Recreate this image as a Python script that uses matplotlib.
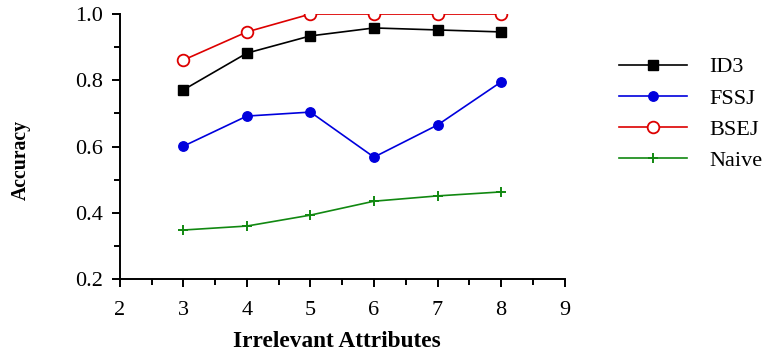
import matplotlib
matplotlib.use("Agg")
import matplotlib.pyplot as plt
from matplotlib.ticker import MultipleLocator

# data
attributes = [3, 4, 5, 6, 7, 8]
id3 = [0.771, 0.882, 0.934, 0.958, 0.952, 0.946]
fssj = [0.601, 0.692, 0.704, 0.568, 0.665, 0.795]
bsej = [0.861, 0.946, 1.0, 1.0, 1.0, 1.0]
naive = [0.348, 0.360, 0.393, 0.435, 0.451, 0.463]

plt.rcParams["font.family"] = ["Liberation Serif", "DejaVu Serif"]

fig = plt.figure(figsize=(7.63, 3.51), dpi=100)
ax = fig.add_axes([0.157, 0.205, 0.583, 0.755])

ax.plot(attributes, id3, color="black", lw=1.2, marker="s", ms=7.2, label="ID3")
ax.plot(attributes, fssj, color="#0000dd", lw=1.2, marker="o", ms=6.8, label="FSSJ")
ax.plot(attributes, bsej, color="#dd0000", lw=1.2, marker="o", ms=8.4,
        mfc="white", mec="#dd0000", mew=1.3, label="BSEJ")
ax.plot(attributes, naive, color="#118811", lw=1.2, marker="+", ms=6.5, mew=1.4,
        label="Naive")

ax.set_xlim(2, 9)
ax.set_ylim(0.2, 1.0)
ax.xaxis.set_major_locator(MultipleLocator(1))
ax.xaxis.set_minor_locator(MultipleLocator(0.5))
ax.yaxis.set_major_locator(MultipleLocator(0.2))
ax.yaxis.set_minor_locator(MultipleLocator(0.1))
ax.yaxis.set_major_formatter(plt.FuncFormatter(lambda v, _: f"{v:.1f}"))

for side in ["top", "right"]:
    ax.spines[side].set_visible(False)
ax.spines["left"].set_linewidth(1.4)
ax.spines["bottom"].set_linewidth(1.4)
ax.tick_params(which="both", direction="out", width=1.4, labelsize=16)
ax.tick_params(which="major", length=5.8)
ax.tick_params(which="minor", length=4.5)
ax.tick_params(axis="x", pad=10)
ax.tick_params(axis="y", pad=6.5)

ax.set_xlabel("Irrelevant Attributes", fontsize=16.8, fontweight="bold")
ax.set_ylabel("Accuracy", fontsize=14.2, fontweight="bold")
ax.xaxis.set_label_coords(0.489, -0.195)
ax.yaxis.set_label_coords(-0.2, 0.449)

fig.legend(loc="upper left", bbox_to_anchor=(0.811, 0.838), frameon=False,
           borderpad=0, borderaxespad=0, fontsize=16, handlelength=3.06,
           handletextpad=1.0, labelspacing=0.48)

fig.savefig("out.png", dpi=100)
